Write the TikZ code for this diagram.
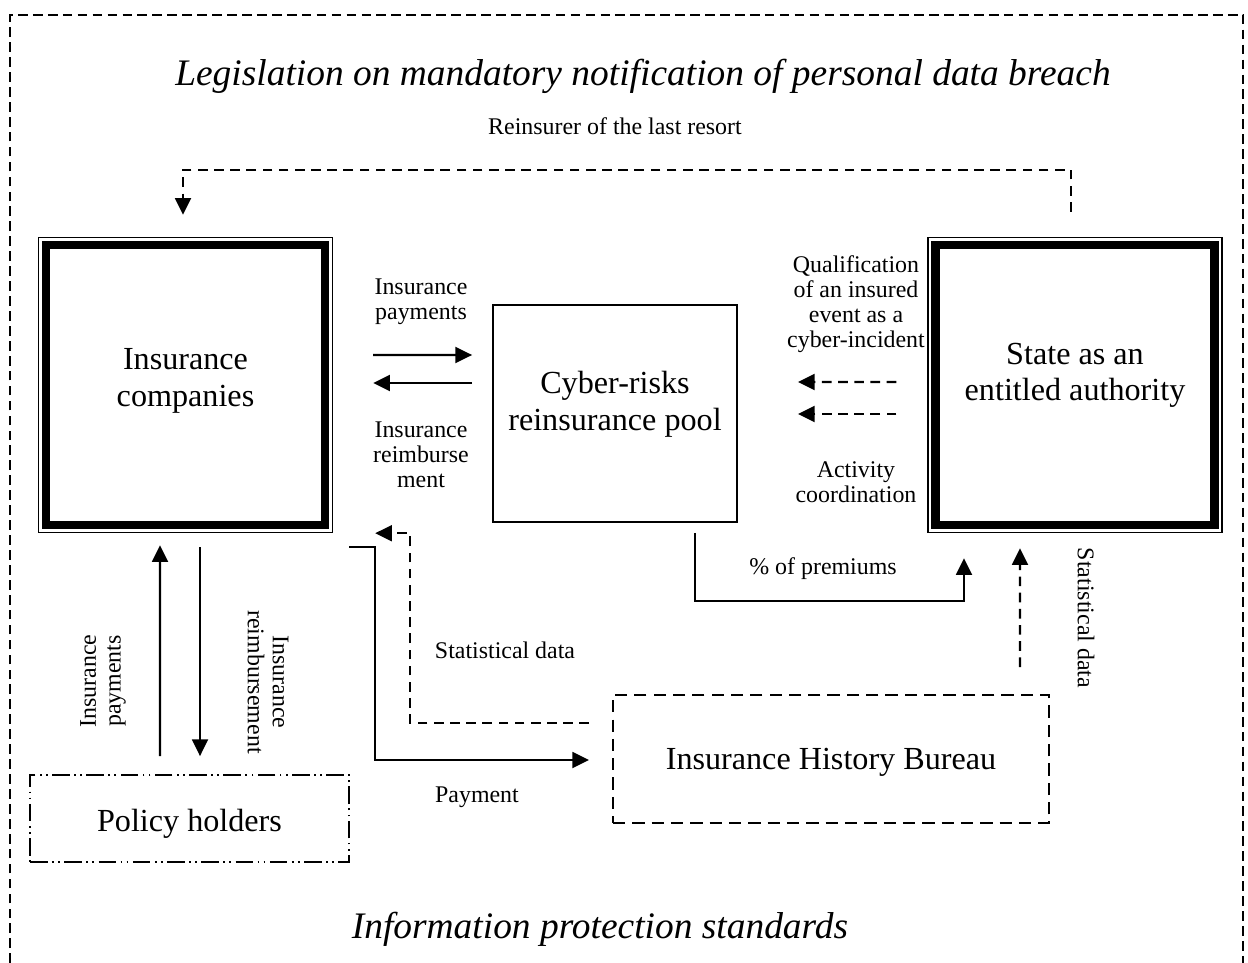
\documentclass[tikz,border=0pt]{standalone}
\usepackage{fontspec}
\setmainfont{Liberation Serif}
\usepackage{tikz}
\usetikzlibrary{arrows.meta, positioning, calc}

\begin{document}
\begin{tikzpicture}[
    bigfont/.style={font=\fontsize{18.3}{21}\selectfont},
    lbl/.style={font=\fontsize{13.6}{14.2}\selectfont, align=center, inner sep=1pt},
    headline/.style={font=\fontsize{21.3}{24}\selectfont\itshape, inner sep=1pt},
    authbox/.style={rectangle, draw, line width=0.8pt, minimum width=5.88cm, minimum height=5.9cm, bigfont, align=center,
        path picture={\draw[line width=4.9pt] ([shift={(0.152,0.152)}]path picture bounding box.south west) rectangle ([shift={(-0.152,-0.152)}]path picture bounding box.north east);}},
    poolbox/.style={rectangle, draw, line width=1pt, minimum width=4.88cm, minimum height=4.34cm, bigfont, align=center},
    holderbox/.style={rectangle, draw, line width=1pt, dash pattern=on 10pt off 2.5pt on 1pt off 2.5pt on 1pt off 2.5pt, minimum width=6.38cm, minimum height=1.74cm, bigfont},
    bureaubox/.style={rectangle, draw, line width=1.1pt, dash pattern=on 7pt off 4pt, minimum width=8.72cm, minimum height=2.56cm, bigfont},
    arrow/.style={-{Triangle[length=9.5pt,width=9pt]}, line width=1.4pt},
    dasharrow/.style={arrow, dash pattern=on 5.5pt off 3.7pt}
]
\useasboundingbox (0,0) rectangle (24.96,-19.26);

% Outer frame (open at the bottom)
\draw[line width=1pt, dash pattern=on 5.5pt off 3pt] (0.20,-19.26) |- (24.86,-0.30) -- (24.86,-19.26);

% Headlines
\node[headline] (legis) at (12.86,-1.52) {Legislation on mandatory notification of personal data breach};
\node[headline] (standards) at (12.00,-18.58) {Information protection standards};

% Main actors
\node[authbox, text depth=8.5pt] (insco) at (3.71,-7.70) {Insurance\\companies};
\node[authbox, text depth=15pt] (state) at (21.50,-7.70) {State as an\\entitled authority};
\node[poolbox, text depth=14pt] (pool) at (12.30,-8.27) {Cyber-risks\\reinsurance pool};
\node[holderbox, text height=19pt] (holders) at (3.79,-16.37) {Policy holders};
\node[bureaubox, text height=16pt] (bureau) at (16.62,-15.18) {Insurance History Bureau};

% Labels
\node[lbl] (reinsurer) at (12.30,-2.52) {Reinsurer of the last resort};
\node[lbl] (payin) at (8.42,-6.04) {Insurance\\payments};
\node[lbl] (reimb) at (8.42,-9.10) {Insurance\\reimburse\\ment};
\node[lbl] (qualif) at (17.12,-6.08) {Qualification\\of an insured\\event as a\\cyber-incident};
\node[lbl] (coord) at (17.12,-9.64) {Activity\\coordination};
\node[lbl] (premiums) at (16.46,-11.38) {\% of premiums};
\node[lbl, rotate=-90] (statright) at (21.72,-12.36) {Statistical data};
\node[lbl] (statleft) at (10.10,-13.00) {Statistical data};
\node[lbl] (payment) at (9.54,-15.94) {Payment};
\node[lbl, rotate=90] (holderpay) at (2.06,-13.62) {Insurance\\payments};
\node[lbl, rotate=-90] (holderreimb) at (5.36,-13.64) {Insurance\\reimbursement};

% Reinsurer of the last resort
\draw[dasharrow] ($(state.north)+(-0.08,0.50)$) -- ++(0,0.84) -| ($(insco.north)+(-0.05,0.44)$);

% Insurance companies <-> pool
\draw[arrow] ($(insco.east)+(0.80,0.60)$) -- ($(pool.west)+(-0.40,1.17)$);
\draw[arrow] ($(pool.west)+(-0.40,0.61)$) -- ($(insco.east)+(0.80,0.04)$);

% State -> pool
\draw[dasharrow] ($(state.west)+(-0.62,0.06)$) -- ($(pool.east)+(1.20,0.63)$);
\draw[dasharrow] ($(state.west)+(-0.62,-0.58)$) -- ($(pool.east)+(1.20,-0.01)$);

% Pool -> state
\draw[arrow] ($(pool.south)+(1.60,-0.20)$) -- ++(0,-1.36) -| ($(state.south)+(-2.22,-0.50)$);

% Bureau -> state
\draw[dasharrow] ($(bureau.north)+(3.78,0.54)$) -- ($(state.south)+(-1.10,-0.30)$);

% Policy holders <-> insurance companies
\draw[arrow] ($(holders.north)+(-0.59,0.36)$) -- ($(insco.south)+(-0.51,-0.24)$);
\draw[arrow] ($(insco.south)+(0.29,-0.28)$) -- ($(holders.north)+(0.21,0.36)$);

% Insurance companies <-> bureau
\draw[arrow] ($(insco.south east)+(0.32,-0.28)$) -- ++(0.52,0) |- ($(bureau.west)+(-0.46,-0.02)$);
\draw[dasharrow] ($(bureau.west)+(-0.46,0.72)$) -| ($(insco.south east)+(1.54,0)$) -- ($(insco.south east)+(0.84,0)$);

\end{tikzpicture}
\end{document}
